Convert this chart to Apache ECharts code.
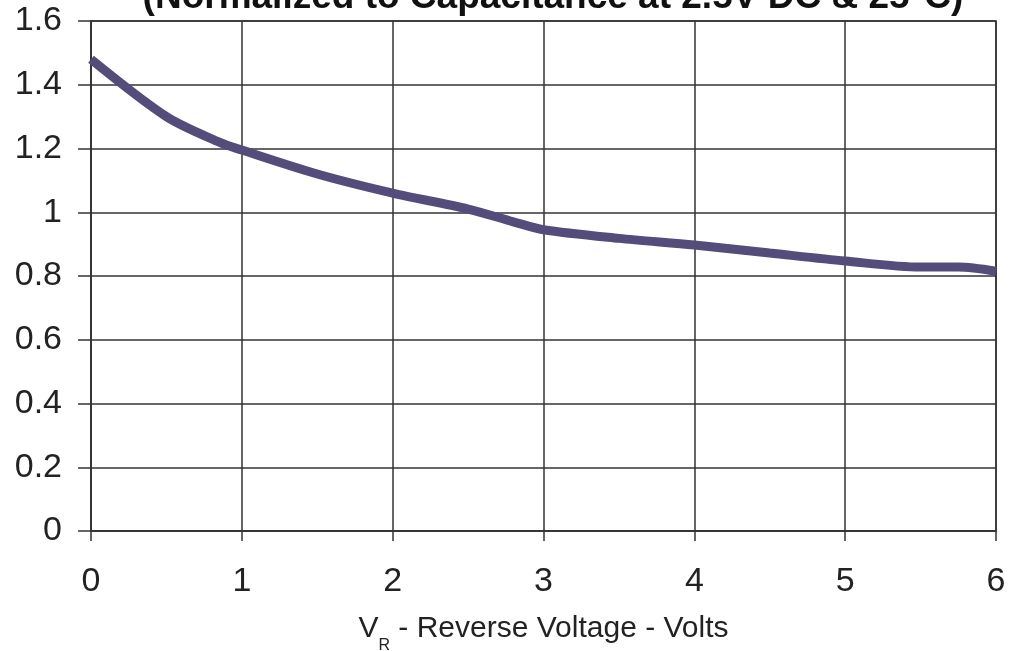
<!DOCTYPE html>
<html><head><meta charset="utf-8">
<script src="https://cdn.jsdelivr.net/npm/echarts@6/dist/echarts.min.js"></script>
<style>html,body{margin:0;padding:0;background:#fff}#c{width:1012px;height:651px}</style>
</head><body><div id="c"></div>
<script>
const voltage = [0, 0.5, 0.85, 1, 1.5, 2, 2.5, 2.8, 3, 3.5, 4, 4.5, 5, 5.5, 5.75, 6];
const capacitance = [1.48, 1.30, 1.22, 1.195, 1.12, 1.06, 1.01, 0.97, 0.945, 0.918, 0.897, 0.872, 0.847, 0.828, 0.828, 0.815];
const titleText = '(Normalized to Capacitance at 2.5V DC & 25°C)';
const xName = '{m|V}{sub|R}{m| - Reverse Voltage - Volts}';

const chart = echarts.init(document.getElementById('c'));
const font = 'Liberation Sans, Arial, Helvetica, sans-serif';
chart.setOption({
  animation: false,
  title: {text: titleText, left: 548, textAlign: 'center', top: -26,
    textStyle: {fontFamily: font, fontSize: 37, fontWeight: 'bold', color: '#111'}},
  grid: {left: 91, right: 16, top: 21, bottom: 120, show: true, borderColor: '#333', borderWidth: 1.5,
    containLabel: false, outerBoundsMode: 'none'},
  xAxis: {type: 'value', min: 0, max: 6, interval: 1,
    name: xName, nameLocation: 'middle', nameGap: 83,
    nameTextStyle: {fontFamily: font, fontSize: 30, color: '#222',
      rich: {
        m: {fontFamily: font, fontSize: 30, lineHeight: 34, verticalAlign: 'top', color: '#222'},
        sub: {fontFamily: font, fontSize: 16, lineHeight: 40, verticalAlign: 'bottom', color: '#222'}}},
    axisLine: {lineStyle: {color: '#333', width: 1.5}},
    axisTick: {show: true, length: 10, lineStyle: {color: '#333', width: 1.5}},
    axisLabel: {fontFamily: font, fontSize: 34, color: '#222', margin: 34},
    splitLine: {show: true, lineStyle: {color: '#333', width: 1.5}}},
  yAxis: {type: 'value', min: 0, max: 1.6, interval: 0.2,
    axisLine: {show: true, lineStyle: {color: '#333', width: 1.5}},
    axisTick: {show: true, length: 13, lineStyle: {color: '#333', width: 1.5}},
    axisLabel: {fontFamily: font, fontSize: 34, color: '#222', margin: 29,
      formatter: v => String(Math.round(v*10)/10)},
    splitLine: {show: true, lineStyle: {color: '#333', width: 1.5}}},
  series: [{type: 'line', data: voltage.map((v,i)=>[v, capacitance[i]]),
    showSymbol: false, smooth: 0.3, lineStyle: {color: '#544c7a', width: 9, cap: 'butt'}}]
});
</script></body></html>
